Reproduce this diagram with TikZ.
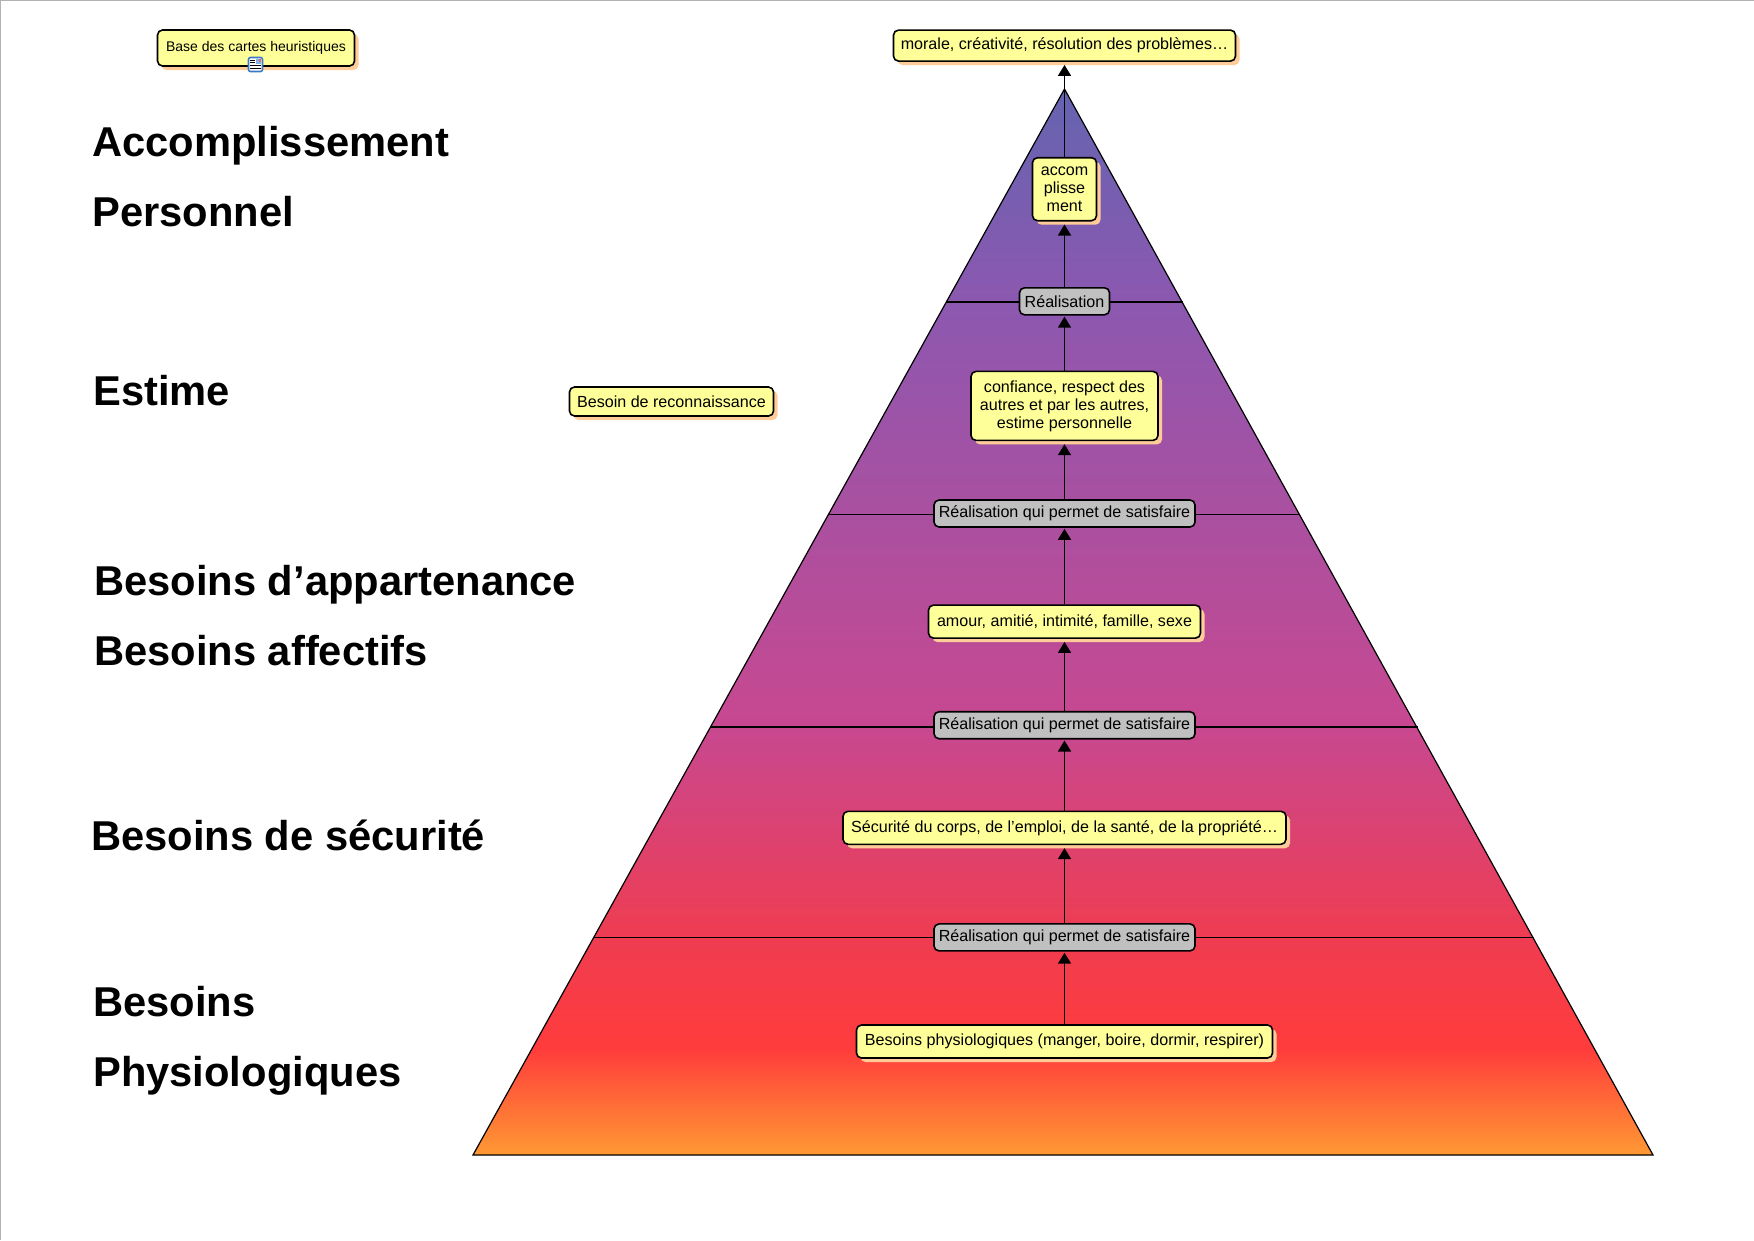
\documentclass[tikz,border=0pt]{standalone}
\usepackage{fontspec}
\setmainfont{Liberation Sans}
\usepackage{xcolor}
\usetikzlibrary{positioning,shadows,arrows.meta}
\definecolor{NoteYellow}{HTML}{FFFF99}
\definecolor{NotePeach}{HTML}{FFCC99}
\definecolor{StepGray}{HTML}{C0C0C0}
\definecolor{IconBlue}{HTML}{3C78C8}
\definecolor{IconSky}{HTML}{7FB0E8}
\definecolor{IconRed}{HTML}{E07050}
\definecolor{FadeOrange}{HTML}{FF9933}
\definecolor{FadeRed}{HTML}{FF3C3C}
\definecolor{FadeRose}{HTML}{F03C50}
\definecolor{FadePink}{HTML}{C84890}
\definecolor{FadeViolet}{HTML}{8C58B0}
\definecolor{FadeBlue}{HTML}{6464B0}
\pgfdeclareverticalshading{pyramidfade}{100bp}{
  color(0bp)=(FadeOrange);
  color(25bp)=(FadeOrange);
  color(30bp)=(FadeRed);
  color(35bp)=(FadeRose);
  color(45bp)=(FadePink);
  color(65bp)=(FadeViolet);
  color(75bp)=(FadeBlue);
  color(100bp)=(FadeBlue)}

\begin{document}
\begin{tikzpicture}[
    x=1pt, y=-1pt,
    note/.style={draw=black, line width=1.6pt, rounded corners=5pt, fill=NoteYellow, inner sep=0pt, minimum height=33pt, align=center, font=\fontsize{16.1}{18}\selectfont,
      drop shadow={shadow xshift=4pt, shadow yshift=-4pt, fill=NotePeach, opacity=1}},
    real/.style={draw=black, line width=1.6pt, rounded corners=5pt, fill=StepGray, inner sep=0pt, minimum height=27pt, align=center, font=\fontsize{16.1}{18}\selectfont},
    title/.style={anchor=base west, inner sep=0pt, font=\fontsize{41.7}{48}\selectfont\bfseries},
    up/.style={-{Triangle[length=11pt,width=13pt]}, line width=1.6pt, shorten >=3pt},
    upreal/.style={up, shorten >=1pt},
    level/.style={line width=1.2pt}
  ]
    \useasboundingbox (0,0) rectangle (1754,1240);
    \draw[gray!60, line width=1pt] (0.5,1240) -- (0.5,0.5) -- (1754,0.5);

    % the pyramid
    \coordinate (top) at (1064.5,89);
    \coordinate (baseL) at (473,1155);
    \coordinate (baseR) at (1653,1155);
    \path[shading=pyramidfade] (top) -- (baseR) -- (baseL) -- cycle;
    \draw[line width=1.2pt, line join=miter] (top) -- (baseR) -- (baseL) -- cycle;

    % level lines
    \coordinate (lineDL) at (946,302);
    \coordinate (lineDR) at (1183,302);
    \coordinate (lineCL) at (829,514.5);
    \coordinate (lineCR) at (1300,514.5);
    \coordinate (lineBL) at (710,727);
    \coordinate (lineBR) at (1418,727);
    \coordinate (lineAL) at (594,937.5);
    \coordinate (lineAR) at (1534,937.5);
    \draw[level] (lineDL) -- (lineDR);
    \draw[level] (lineCL) -- (lineCR);
    \draw[level] (lineBL) -- (lineBR);
    \draw[level] (lineAL) -- (lineAR);

    % the column of notes
    \node[note, minimum width=416pt] (phys) at (1064.5,1041.5) {Besoins physiologiques (manger, boire, dormir, respirer)};
    \node[real, minimum width=261pt, above=72.5pt of phys] (realA) {Réalisation qui permet de satisfaire};
    \node[note, minimum width=443pt, above=78pt of realA] (secu) {Sécurité du corps, de l’emploi, de la santé, de la propriété…};
    \node[real, minimum width=261pt, above=71pt of secu] (realB) {Réalisation qui permet de satisfaire};
    \node[note, minimum width=272pt, above=72pt of realB] (amour) {amour, amitié, intimité, famille, sexe};
    \node[real, minimum width=261pt, above=76.5pt of amour] (realC) {Réalisation qui permet de satisfaire};
    \node[note, minimum width=187pt, minimum height=69pt, above=58pt of realC] (conf) {confiance, respect des\\autres et par les autres,\\estime personnelle};
    \node[real, minimum width=90pt, above=55pt of conf] (realD) {Réalisation};
    \node[note, minimum width=64pt, minimum height=63pt, above=65.5pt of realD] (accom) {accom\\plisse\\ment};
    \node[note, minimum width=342pt, minimum height=31pt, above=95pt of accom] (morale) {morale, créativité, résolution des problèmes…};

    % the two loose notes
    \node[note, minimum width=197pt, minimum height=36pt, font=\fontsize{14}{18}\selectfont] (base) at (256,48) {Base des cartes heuristiques};
    \node[note, minimum width=204pt, minimum height=29pt] (reco) at (671.5,401.5) {Besoin de reconnaissance};

    % small icon on the first note
    \node[draw=IconBlue, line width=1.6pt, rounded corners=2pt, fill=white, minimum size=14pt, inner sep=0pt] (icon) at (255.5,64.5) {};
    \fill[IconSky] (255.5,59) rectangle (261,64);
    \fill[IconRed] (258.5,59) rectangle (261,61.5);
    \draw[line width=1pt] (250,60) -- (254.5,60) (250,62.5) -- (254.5,62.5) (250,65.5) -- (261,65.5) (250,68) -- (261,68);

    \draw[upreal] (phys) -- (realA);
    \draw[up] (realA) -- (secu);
    \draw[upreal] (secu) -- (realB);
    \draw[up] (realB) -- (amour);
    \draw[upreal] (amour) -- (realC);
    \draw[up] (realC) -- (conf);
    \draw[upreal] (conf) -- (realD);
    \draw[up] (realD) -- (accom);
    \draw[up] (accom) -- (morale);

    % the names of the levels
    \node[title] (acc) at (92,156) {Accomplissement};
    \node[title] (pers) at (92,226) {Personnel};
    \node[title] (est) at (93,405) {Estime};
    \node[title] (appa) at (94,595) {Besoins d’appartenance};
    \node[title] (affe) at (94,665) {Besoins affectifs};
    \node[title] (secur) at (91,850) {Besoins de sécurité};
    \node[title] (bes) at (93,1016) {Besoins};
    \node[title] (phy) at (93,1086) {Physiologiques};
  \end{tikzpicture}
\end{document}
